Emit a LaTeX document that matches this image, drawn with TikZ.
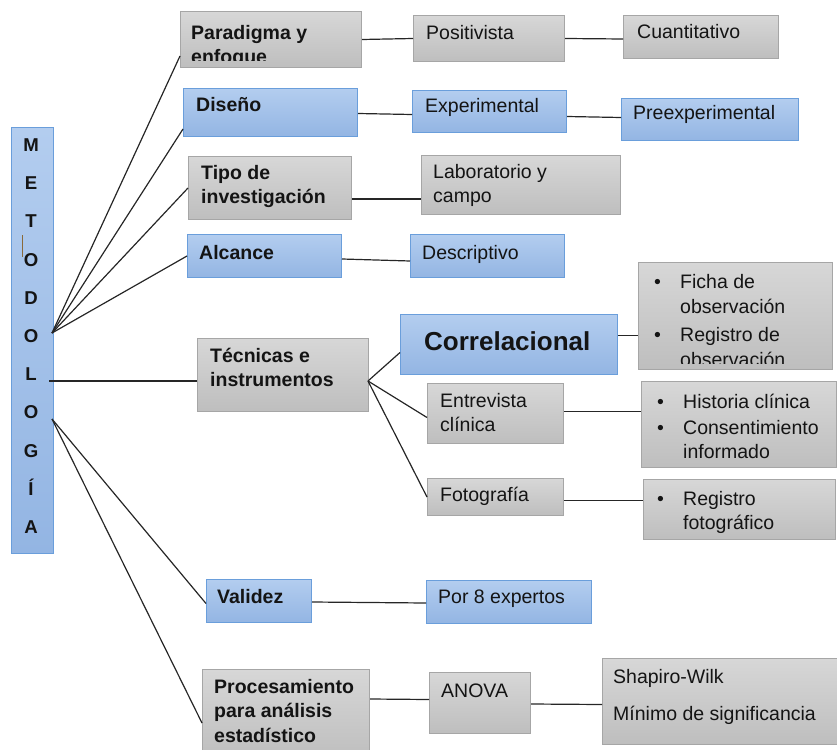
\documentclass[tikz,border=0pt]{standalone}
\usepackage{fontspec}
\setmainfont{Liberation Sans}
\usetikzlibrary{positioning}

\definecolor{gtop}{HTML}{D7D7D7}
\definecolor{gbot}{HTML}{BEBEBE}
\definecolor{gline}{HTML}{A6A6A6}
\definecolor{btop}{HTML}{B3CDEF}
\definecolor{bbot}{HTML}{93B5E3}
\definecolor{bline}{HTML}{6A9EDB}
\definecolor{ink}{HTML}{141414}
\definecolor{cursor}{HTML}{8A6A3A}

\newcommand\itembul{\makebox[26pt][l]{\textbullet}}
\newcommand\itemgap{\makebox[26pt]{}}

\tikzset{
	gbox/.style={draw=gline, top color=gtop, bottom color=gbot, line width=1pt, inner sep=0pt, anchor=north west},
	bbox/.style={draw=bline, top color=btop, bottom color=bbot, line width=1pt, inner sep=0pt, anchor=north west},
	lbl/.style={anchor=base west, inner sep=0pt, align=left, text=ink, font=\fontsize{19.5}{24.5}\selectfont},
	hd/.style={lbl, font=\fontsize{19.5}{24.5}\selectfont\bfseries},
	link/.style={line width=1.2pt, draw=black!85}
}

\begin{document}
\begin{tikzpicture}[x=1pt,y=-1pt]
		\useasboundingbox (0,0) rectangle (837,749);
		\clip (0,0) rectangle (837,749);

		\node[bbox, minimum width=42pt, minimum height=426pt] (met) at (11,127) {};
		\node[inner sep=0pt, align=center, text=ink, font=\fontsize{18.6}{38.2}\selectfont\bfseries] (metT) at (31,336) {M\\E\\T\\O\\D\\O\\L\\O\\G\\Í\\A};
		\draw[cursor, line width=0.8pt] (22,235) -- (22,257);

		\node[gbox, minimum width=181pt, minimum height=56pt] (par) at (180,11) {};
		\node[gbox, minimum width=151pt, minimum height=46pt] (pos) at (413,15) {};
		\node[gbox, minimum width=155pt, minimum height=43pt] (cua) at (623,15) {};
		\node[bbox, minimum width=174pt, minimum height=48pt] (dis) at (183,88) {};
		\node[bbox, minimum width=154pt, minimum height=42pt] (exp) at (412,90) {};
		\node[bbox, minimum width=177pt, minimum height=42pt] (pre) at (621,98) {};
		\node[gbox, minimum width=163pt, minimum height=63pt] (tip) at (188,156) {};
		\node[gbox, minimum width=199pt, minimum height=59pt] (lab) at (421,155) {};
		\node[bbox, minimum width=154pt, minimum height=43pt] (alc) at (187,234) {};
		\node[bbox, minimum width=154pt, minimum height=43pt] (des) at (410,234) {};
		\node[gbox, minimum width=171pt, minimum height=73pt] (tec) at (197,338) {};
		\node[bbox, minimum width=217pt, minimum height=60pt] (cor) at (400,314) {};
		\node[gbox, minimum width=194pt, minimum height=107pt] (fic) at (638,262) {};
		\node[gbox, minimum width=136pt, minimum height=60pt] (ent) at (427,383) {};
		\node[gbox, minimum width=195pt, minimum height=86pt] (his) at (641,381) {};
		\node[gbox, minimum width=136pt, minimum height=37pt] (fot) at (427,478) {};
		\node[gbox, minimum width=192pt, minimum height=60pt] (reg) at (643,479) {};
		\node[bbox, minimum width=105pt, minimum height=43pt] (val) at (206,579) {};
		\node[bbox, minimum width=165pt, minimum height=43pt] (por) at (426,580) {};
		\node[gbox, minimum width=167pt, minimum height=90pt] (pro) at (202,669) {};
		\node[gbox, minimum width=101pt, minimum height=61pt] (ano) at (429,672) {};
		\node[gbox, minimum width=240pt, minimum height=86pt] (sha) at (602,658) {};

		\begin{scope}
			\clip (par.north west) rectangle ([yshift=7pt]par.south east);
			\node[hd] (parT) at (191,64) {Paradigma y\\enfoque};
		\end{scope}
		\node[lbl] (posT) at (426,40) {Positivista};
		\node[lbl] (cuaT) at (637,39) {Cuantitativo};
		\node[hd] (disT) at (196,112) {Diseño};
		\node[lbl] (expT) at (425,113) {Experimental};
		\node[lbl] (preT) at (633,120) {Preexperimental};
		\node[hd] (tipT) at (201,203.5) {Tipo de\\investigación};
		\node[lbl] (labT) at (433,202.5) {Laboratorio y\\campo};
		\node[hd] (alcT) at (199,259) {Alcance};
		\node[lbl] (desT) at (422,259) {Descriptivo};
		\node[hd] (tecT) at (210,386.5) {Técnicas e\\instrumentos};
		\node[lbl, font=\fontsize{26}{30}\selectfont\bfseries] (corT) at (424,350) {Correlacional};
		\begin{scope}
			\clip (fic.north west) rectangle ([yshift=7pt]fic.south east);
			\node[lbl] (ficT) at (654,366) {\itembul Ficha de\\\itemgap observación\\[4pt]\itembul Registro de\\\itemgap observación};
		\end{scope}
		\node[lbl] (entT) at (440,431.5) {Entrevista\\clínica};
		\node[lbl] (hisT) at (657,458.5) {\itembul Historia clínica\\[1.5pt]\itembul Consentimiento\\\itemgap informado};
		\node[lbl] (fotT) at (440,501) {Fotografía};
		\node[lbl] (regT) at (657,529.5) {\itembul Registro\\\itemgap fotográfico};
		\node[hd] (valT) at (217,603) {Validez};
		\node[lbl] (porT) at (438,603) {Por 8 expertos};
		\node[hd] (proT) at (214,742) {Procesamiento\\para análisis\\estadístico};
		\node[lbl] (anoT) at (441,697) {ANOVA};
		\node[lbl] (shaT) at (613,720) {Shapiro-Wilk\\[12.5pt]Mínimo de significancia};

		\coordinate (hubA) at (52,333);
		\coordinate (hubB) at (49,381);
		\coordinate (hubC) at (52,419);
		\coordinate (hubT) at (368,381);

		\draw[link] (hubA) -- ([yshift=12pt]par.south west);
		\draw[link] (hubA) -- ([yshift=8pt]dis.south west);
		\draw[link] (hubA) -- (tip.west);
		\draw[link] (hubA) -- (alc.west);
		\draw[link] (hubB) -- ([yshift=-6pt]tec.west);
		\draw[link] (hubC) -- ([yshift=-2.5pt]val.west);
		\draw[link] (hubC) -- ([yshift=-54pt]pro.north west);

		\draw[link] (par.east) -- (pos.west);
		\draw[link] (pos.east) -- ([yshift=-2pt]cua.west);
		\draw[link] ([yshift=-1pt]dis.east) -- ([yshift=-3pt]exp.west);
		\draw[link] ([yshift=-5pt]exp.east) -- ([yshift=2pt]pre.west);
		\draw[link] ([yshift=-11pt]tip.east) -- ([yshift=-14pt]lab.west);
		\draw[link] ([yshift=-3pt]alc.east) -- ([yshift=-5pt]des.west);

		\draw[link] (hubT) -- ([yshift=-8pt]cor.west);
		\draw[link] (hubT) -- ([yshift=-4pt]ent.west);
		\draw[link] (hubT) -- (fot.west);
		\draw[link] ([yshift=9pt]cor.east) -- ([yshift=-19.5pt]fic.west);
		\draw[link] ([yshift=2pt]ent.east) -- ([yshift=13pt]his.west);
		\draw[link] ([yshift=-3.5pt]fot.east) -- ([yshift=9pt]reg.west);

		\draw[link] ([yshift=-1pt]val.east) -- ([yshift=-1pt]por.west);
		\draw[link] ([yshift=-30pt]pro.north east) -- ([yshift=3.5pt]ano.west);
		\draw[link] ([yshift=-1pt]ano.east) -- ([yshift=-3pt]sha.west);
\end{tikzpicture}
\end{document}
